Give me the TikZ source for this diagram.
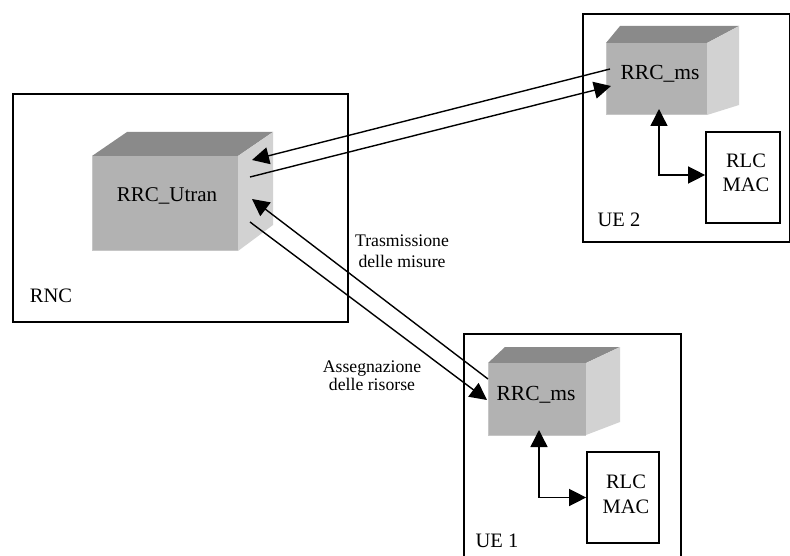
\documentclass[tikz,border=0pt]{standalone}
\usepackage{fontspec}
\setmainfont{Liberation Serif}
\usetikzlibrary{arrows.meta}

\definecolor{cubetop}{RGB}{138,138,138}
\definecolor{cubefront}{RGB}{178,178,178}
\definecolor{cubeside}{RGB}{210,210,210}
\definecolor{cubeedge}{RGB}{198,198,198}

% shaded block: front face (left, top, right, bottom), back edge x-left, x-right, y,
% and the y of the lower back corner of the side face
\newcommand\cubeblock[8]{%
  \fill[cubetop] (#1,#2) -- (#5,#7) -- (#6,#7) -- (#3,#2) -- cycle;
  \fill[cubeside] (#3,#2) -- (#6,#7) -- (#6,#8) -- (#3,#4) -- cycle;
  \fill[cubefront] (#1,#2) rectangle (#3,#4);
  \draw[cubeedge, line width=1pt] (#1,#2) -- (#1,#4) -- (#3,#4);
}

\begin{document}
\begin{tikzpicture}[x=1pt,y=-1pt,
  frame/.style={draw, line width=1.7pt, inner sep=0pt, anchor=north west},
  unitbox/.style={draw, line width=1.7pt, inner sep=0pt},
  link/.style={line width=1.4pt, -{Triangle[length=17pt,width=17pt]}},
  duplex/.style={line width=1.4pt,
    {Triangle[length=17pt,width=17pt]}-{Triangle[length=17pt,width=17pt]}},
  big/.style={font=\fontsize{20.5}{24}\selectfont, inner sep=0pt, anchor=base},
  small/.style={font=\fontsize{17.7}{21}\selectfont, inner sep=0pt, anchor=base},
]
\useasboundingbox (0,0) rectangle (790,556);

% enclosing frames
\node[frame, minimum width=335pt, minimum height=228pt] (rnc) at (12,93) {};
\node[frame, minimum width=207pt, minimum height=228pt] (ue2) at (582,13) {};
\node[frame, minimum width=217pt, minimum height=230pt] (ue1) at (463,333) {};

% RRC blocks
\cubeblock{92}{156}{238}{251}{127}{273}{132}{225}
\cubeblock{606}{43}{707}{115}{620}{739}{26}{105}
\cubeblock{488}{363}{586}{435}{505}{620}{347}{422}

\node[big, font=\fontsize{21}{24}\selectfont] (utran) at (167,202) {RRC\_Utran};
\node[big, font=\fontsize{21.5}{24}\selectfont] (ms2) at (660,80) {RRC\_ms};
\node[big, font=\fontsize{21.5}{24}\selectfont] (ms1) at (536,400) {RRC\_ms};

% RLC/MAC units
\node[unitbox, minimum width=74pt, minimum height=91pt] (rlc2) at (743,177.5) {};
\node[big] (rlc2a) at (746,168) {RLC};
\node[big] (rlc2b) at (746,192) {MAC};
\node[unitbox, minimum width=72pt, minimum height=91pt] (rlc1) at (623,497.5) {};
\node[big] (rlc1a) at (626,488) {RLC};
\node[big] (rlc1b) at (626,513) {MAC};

% frame captions
\node[big] (rnclab) at (51,302) {RNC};
\node[big] (ue2lab) at (619,227) {UE 2};
\node[big] (ue1lab) at (497,547) {UE 1};

% connector ends on the blocks
\coordinate (u1) at (252,160);
\coordinate (u2) at (250,177);
\coordinate (u3) at (252,199);
\coordinate (u4) at (250,222);
\coordinate (m2a) at (610,69);
\coordinate (m2b) at (611,86);
\coordinate (m1a) at (488,379);
\coordinate (m1b) at (487,400);
\coordinate (ms2port) at (659,109);
\coordinate (ms1port) at (539,430);

\draw[link] (m2a) -- (u1);
\draw[link] (u2) -- (m2b);
\draw[link] (m1a) -- (u3);
\draw[link] (u4) -- (m1b);

\draw[duplex] (ms2port) |- ([yshift=2.5pt]rlc2.west);
\draw[duplex] (ms1port) |- (rlc1.west);

% message labels
\node[small] (tr1) at (402,247) {Trasmissione};
\node[small] (tr2) at (402,268) {delle misure};
\node[small] (as1) at (372,372) {Assegnazione};
\node[small] (as2) at (372,390) {delle risorse};
\end{tikzpicture}
\end{document}
